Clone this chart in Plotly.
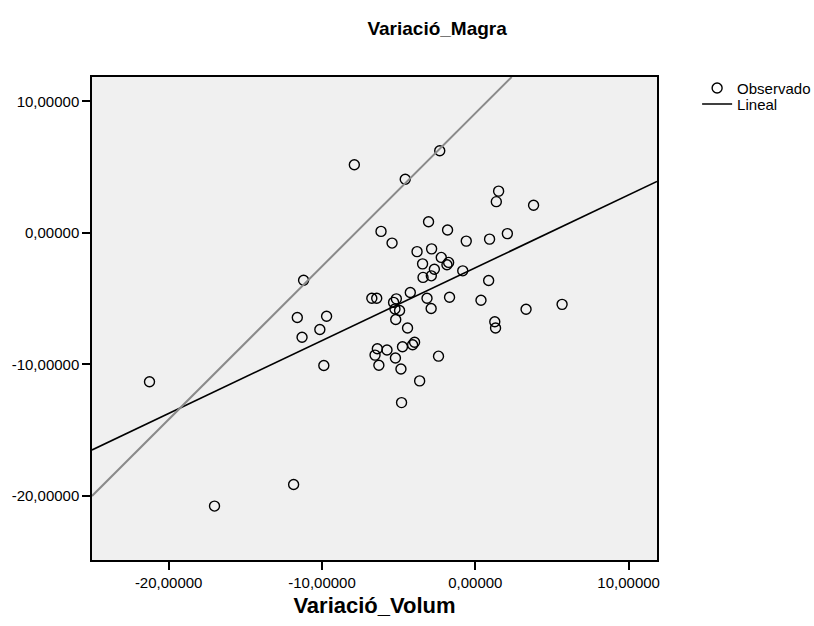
import numpy as np
import plotly.graph_objects as go

# Observed data (Variació_Volum, Variació_Magra)
volum = [-21.25, -17.01, -11.85, -7.89, -2.32, -4.57, 1.52, 1.37, 3.80, 2.09,
         0.93, -0.59, -1.81, -3.05, -6.15, -5.43, -11.20, -2.85, -3.80, -2.22,
         -1.74, -1.85, -3.44, -2.67, -3.41, -2.87, -0.82, 0.87, -4.24, -6.75,
         -6.43, -5.15, -5.33, -3.15, -1.68, 0.37, -5.24, -4.94, -5.19, -2.88,
         3.31, 5.66, 1.27, 1.32, -4.42, -11.61, -9.70, -10.14, -11.30, -6.39,
         -6.54, -5.76, -4.75, -4.09, -3.96, -5.21, -2.40, -6.29, -9.88, -4.85,
         -3.63, -4.81]
magra = [-11.32, -20.78, -19.14, 5.18, 6.24, 4.08, 3.17, 2.37, 2.10, -0.06,
         -0.48, -0.63, 0.21, 0.84, 0.11, -0.78, -3.61, -1.22, -1.43, -1.87,
         -2.25, -2.43, -2.36, -2.77, -3.39, -3.27, -2.89, -3.62, -4.54, -4.97,
         -4.97, -5.02, -5.29, -4.98, -4.90, -5.13, -5.79, -5.91, -6.59, -5.76,
         -5.81, -5.44, -6.76, -7.24, -7.24, -6.44, -6.34, -7.35, -7.94, -8.82,
         -9.30, -8.91, -8.66, -8.51, -8.32, -9.52, -9.38, -10.07, -10.09, -10.35,
         -11.26, -12.91]

# Reference (grey) line parameters
ref_intercept = 9.09
ref_slope = 1.164

tick_vals = [-20, -10, 0, 10]
tick_text = ["-20,00000", "-10,00000", "0,00000", "10,00000"]

x_range = [-25.0, 11.85]
y_range = [-24.88, 11.85]

FONT = "Liberation Sans, Arial, sans-serif"

# Linear fit (OLS) from the data
slope, intercept = np.polyfit(volum, magra, 1)
fit_x = np.array(x_range)
fit_y = intercept + slope * fit_x

# Grey reference line across plot
ref_x_end = (y_range[1] - ref_intercept) / ref_slope
ref_x = np.array([x_range[0], ref_x_end])
ref_y = ref_intercept + ref_slope * ref_x

fig = go.Figure()
fig.add_trace(go.Scatter(
    x=volum, y=magra, mode="markers", name="Observado", legend="legend",
    marker=dict(symbol="circle-open", size=10, color="black",
                line=dict(color="black", width=1.4)),
))
fig.add_trace(go.Scatter(
    x=fit_x, y=fit_y, mode="lines", name="Lineal", legend="legend2",
    line=dict(color="black", width=1.6),
))
fig.add_trace(go.Scatter(
    x=ref_x, y=ref_y, mode="lines", name="ref", showlegend=False,
    line=dict(color="#8a8a8a", width=2),
))

axis_common = dict(
    showgrid=False, zeroline=False, showline=True, linecolor="black",
    linewidth=1.5, mirror=True, ticks="outside", ticklen=8, tickwidth=1.5,
    tickcolor="black", tickmode="array", tickvals=tick_vals, ticktext=tick_text,
    tickfont=dict(family=FONT, size=15, color="black"),
)

legend_common = dict(
    xanchor="left", yanchor="middle",
    font=dict(family=FONT, size=15, color="black"),
    bgcolor="rgba(0,0,0,0)", itemwidth=30,
)

fig.update_layout(
    width=814, height=626,
    margin=dict(l=92, r=157, t=77, b=66, autoexpand=False),
    paper_bgcolor="white", plot_bgcolor="#f0f0f0",
    title=dict(text="<b>Variació_Magra</b>", x=0.537, xanchor="center",
               y=0.955, yanchor="middle",
               font=dict(family=FONT, size=19, color="black")),
    xaxis=dict(range=x_range, title=dict(text="<b>Variació_Volum</b>",
               font=dict(family=FONT, size=22, color="black"),
               standoff=8), automargin=False, **axis_common),
    yaxis=dict(range=y_range, automargin=False, **axis_common),
    legend=dict(x=1.071, y=0.9766, **legend_common),
    legend2=dict(x=1.071, y=0.9435, **legend_common),
    showlegend=True,
)

fig.write_html("out.html")
